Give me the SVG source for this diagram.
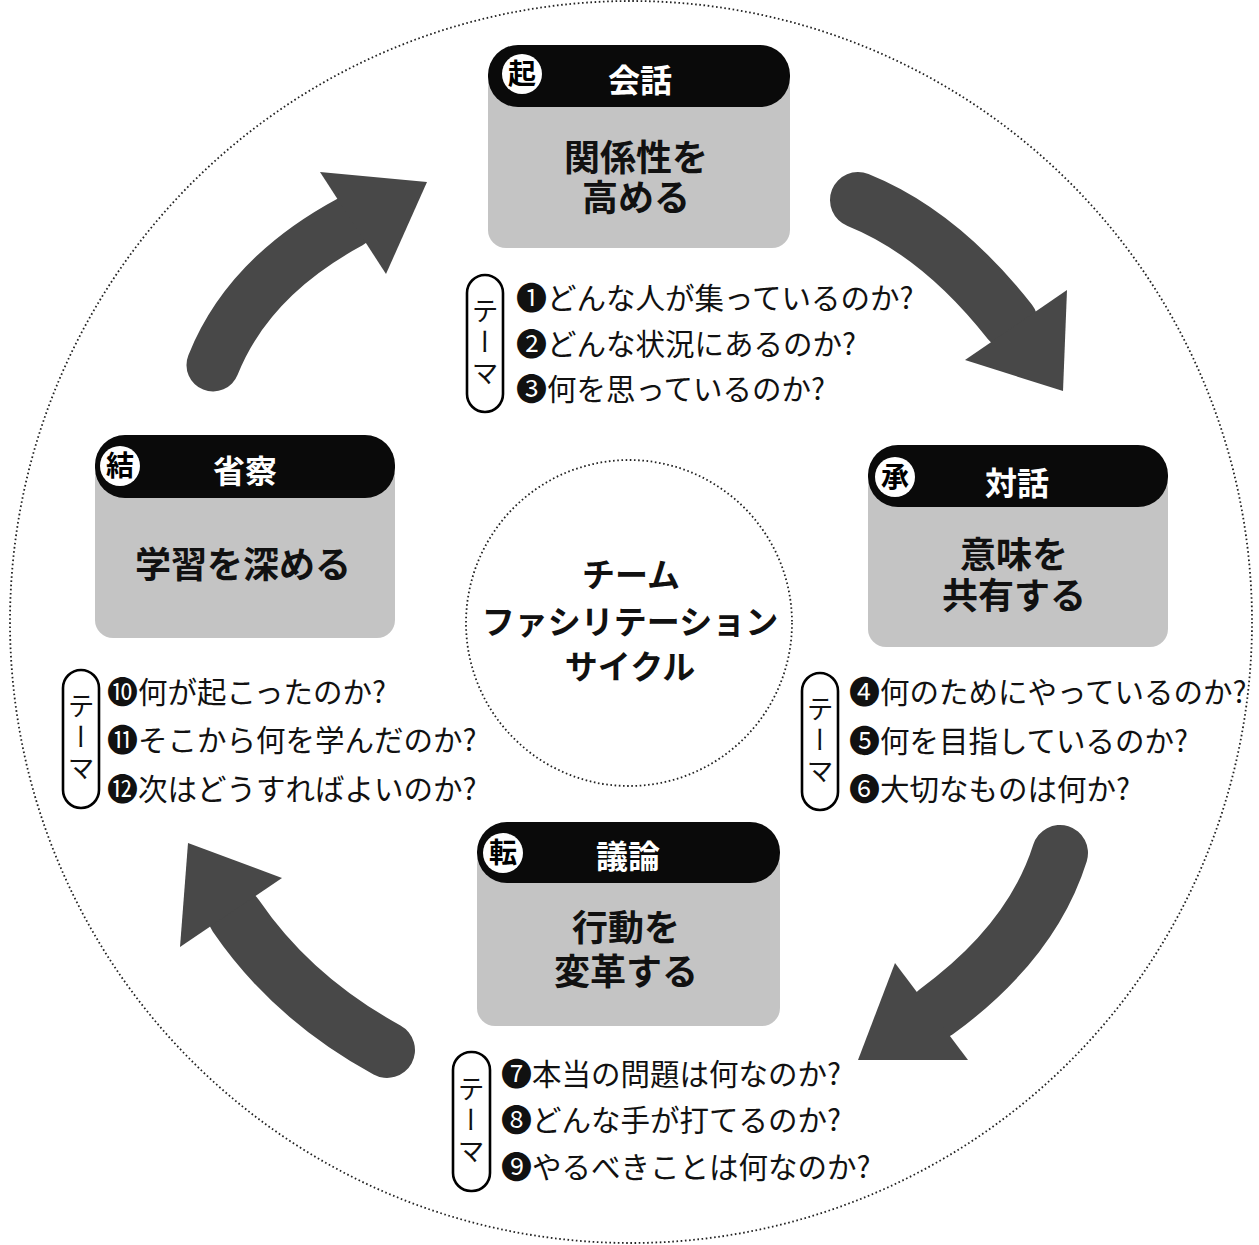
<svg xmlns="http://www.w3.org/2000/svg" width="1259" height="1245" viewBox="0 0 1259 1245">
<style>
.dot{fill:none;stroke:#222;stroke-width:1.8;stroke-dasharray:1.6 2.6}
.hdr{fill:#0a0a0a}
.box{fill:#c4c4c4}
.badge{fill:#fff}
.bt{font-family:"Noto Sans CJK JP","Noto Sans CJK SC",sans-serif;font-weight:700;font-size:28px;fill:#000;text-anchor:middle}
.ht{font-family:"Noto Sans CJK JP","Noto Sans CJK SC",sans-serif;font-weight:700;font-size:32px;fill:#fff;text-anchor:middle}
.mt{font-family:"Noto Sans CJK JP","Noto Sans CJK SC",sans-serif;font-weight:700;font-size:36px;fill:#111;text-anchor:middle}
.ct{font-family:"Noto Sans CJK JP","Noto Sans CJK SC",sans-serif;font-weight:700;font-size:33px;fill:#111;text-anchor:middle}
.it{font-family:"Noto Sans CJK JP","Noto Sans CJK SC",sans-serif;font-weight:400;font-size:29.5px;fill:#111}
.n{font-size:31px}
.br{fill:#fff;stroke:#000;stroke-width:2.6}
.vt{font-family:"Noto Sans CJK JP","Noto Sans CJK SC",sans-serif;font-weight:400;font-size:27px;fill:#111;writing-mode:vertical-rl;letter-spacing:4px}
.ab{fill:none;stroke:#484848;stroke-linecap:round}
.ah{fill:#484848}
</style>
<rect width="1259" height="1245" fill="#fff"/>
<circle class="dot" cx="631" cy="622" r="621"/>

<g id="connectors">
  <g id="arrow-ketsu-ki">
    <path class="ab" stroke-width="53" d="M213,365 Q248,277 350,222"/>
    <polygon class="ah" points="320,172 427,182 386,274"/>
  </g>
  <g id="arrow-ki-sho">
    <path class="ab" stroke-width="56" d="M858,200 Q940,233 1010,322"/>
    <polygon class="ah" points="1067,290 965,360 1063,391"/>
  </g>
  <g id="arrow-sho-ten">
    <path class="ab" stroke-width="56" d="M1060,853 Q1032,942 936,1012"/>
    <polygon class="ah" points="895,963 858,1060 968,1060"/>
  </g>
  <g id="arrow-ten-ketsu">
    <path class="ab" stroke-width="56" d="M387,1050 Q292,998 236,916"/>
    <polygon class="ah" points="188,843 282,878 180,947"/>
  </g>
</g>

<g id="center">
  <circle class="dot" cx="629" cy="623" r="163"/>
  <text class="ct" x="631" y="587">チーム<tspan x="630" dy="47">ファシリテーション</tspan><tspan x="630" dy="45">サイクル</tspan></text>
</g>

<g id="node-ki">
  <rect class="box" x="488" y="70" width="302" height="178" rx="18"/>
  <rect class="hdr" x="488" y="45" width="302" height="62" rx="30"/>
  <circle class="badge" cx="522" cy="74" r="20"/>
  <text class="bt" x="522" y="84">起</text>
  <text class="ht" x="640" y="92">会話</text>
  <text class="mt" x="636" y="171">関係性を<tspan x="636" dy="40">高める</tspan></text>
</g>
<g id="theme-ki">
  <rect class="br" x="467" y="275" width="36" height="137" rx="18"/>
  <text class="vt" x="485" y="297">テーマ</text>
  <text class="it" x="516" y="309"><tspan class="n">❶</tspan>どんな人が集っているのか?</text>
  <text class="it" x="516" y="355"><tspan class="n">❷</tspan>どんな状況にあるのか?</text>
  <text class="it" x="516" y="400"><tspan class="n">❸</tspan>何を思っているのか?</text>
</g>

<g id="node-sho">
  <rect class="box" x="868" y="470" width="300" height="177" rx="18"/>
  <rect class="hdr" x="868" y="445" width="300" height="62" rx="30"/>
  <circle class="badge" cx="895" cy="477" r="20"/>
  <text class="bt" x="895" y="487">承</text>
  <text class="ht" x="1017" y="495">対話</text>
  <text class="mt" x="1014" y="568">意味を<tspan x="1014" dy="41">共有する</tspan></text>
</g>
<g id="theme-sho">
  <rect class="br" x="802" y="673" width="36" height="137" rx="18"/>
  <text class="vt" x="820" y="695">テーマ</text>
  <text class="it" x="849" y="703"><tspan class="n">❹</tspan>何のためにやっているのか?</text>
  <text class="it" x="849" y="752"><tspan class="n">❺</tspan>何を目指しているのか?</text>
  <text class="it" x="849" y="800"><tspan class="n">❻</tspan>大切なものは何か?</text>
</g>

<g id="node-ten">
  <rect class="box" x="477" y="846" width="303" height="180" rx="18"/>
  <rect class="hdr" x="477" y="822" width="303" height="61" rx="30"/>
  <circle class="badge" cx="503" cy="853" r="20"/>
  <text class="bt" x="503" y="863">転</text>
  <text class="ht" x="628" y="868">議論</text>
  <text class="mt" x="626" y="941">行動を<tspan x="626" dy="44">変革する</tspan></text>
</g>
<g id="theme-ten">
  <rect class="br" x="453" y="1052" width="37" height="139" rx="18"/>
  <text class="vt" x="471" y="1075">テーマ</text>
  <text class="it" x="501" y="1085"><tspan class="n">❼</tspan>本当の問題は何なのか?</text>
  <text class="it" x="501" y="1131"><tspan class="n">❽</tspan>どんな手が打てるのか?</text>
  <text class="it" x="501" y="1178"><tspan class="n">❾</tspan>やるべきことは何なのか?</text>
</g>

<g id="node-ketsu">
  <rect class="box" x="95" y="460" width="300" height="178" rx="18"/>
  <rect class="hdr" x="95" y="435" width="300" height="63" rx="30"/>
  <circle class="badge" cx="120" cy="466" r="20"/>
  <text class="bt" x="120" y="476">結</text>
  <text class="ht" x="245" y="483">省察</text>
  <text class="mt" x="243" y="578">学習を深める</text>
</g>
<g id="theme-ketsu">
  <rect class="br" x="63" y="670" width="36" height="138" rx="18"/>
  <text class="vt" x="81" y="692">テーマ</text>
  <text class="it" x="107" y="703"><tspan class="n">❿</tspan>何が起こったのか?</text>
  <text class="it" x="107" y="751"><tspan class="n">⓫</tspan>そこから何を学んだのか?</text>
  <text class="it" x="107" y="800"><tspan class="n">⓬</tspan>次はどうすればよいのか?</text>
</g>
</svg>
